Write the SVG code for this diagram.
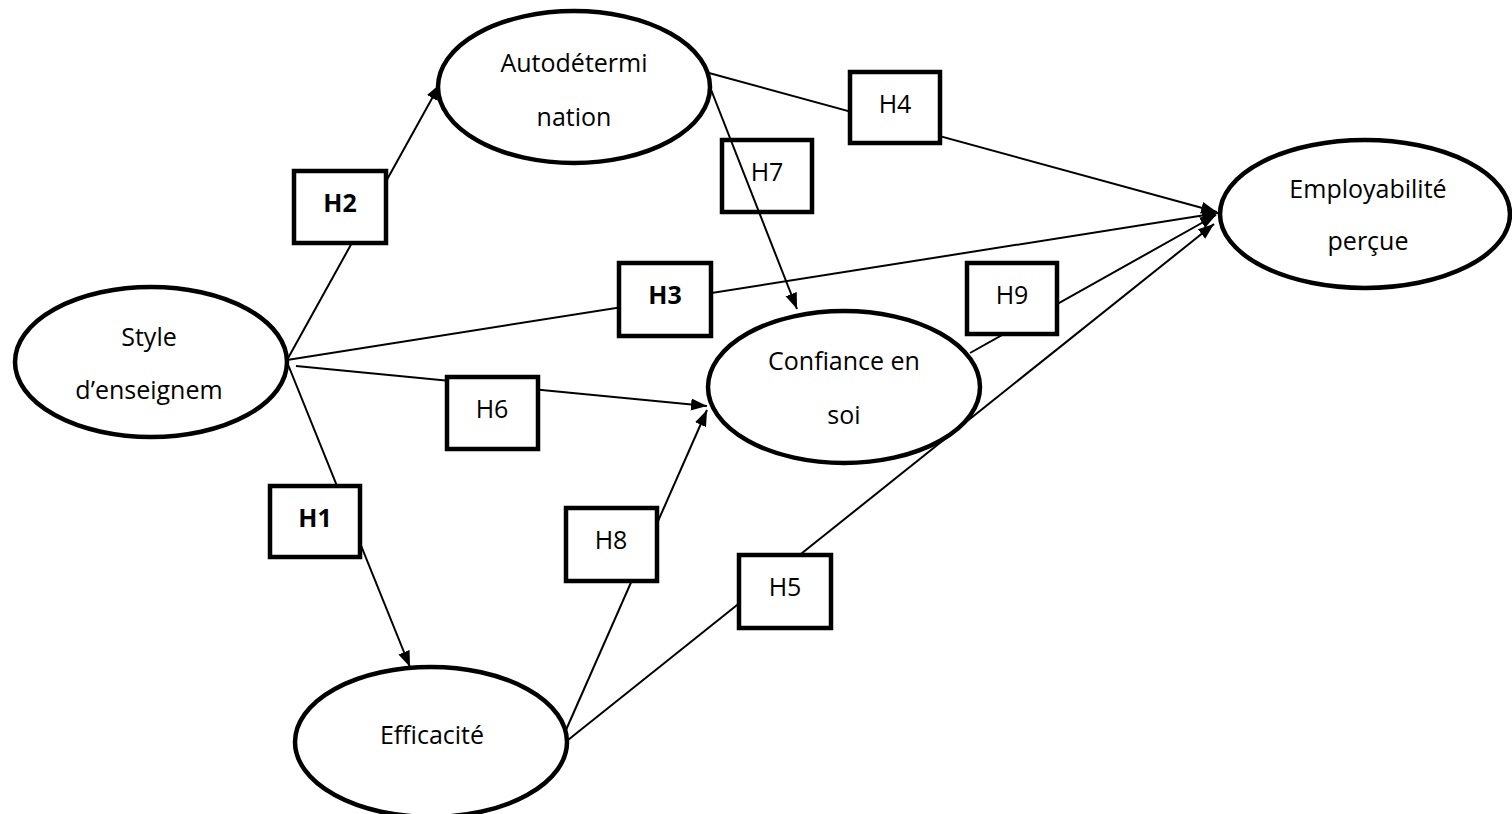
<svg xmlns="http://www.w3.org/2000/svg" width="1512" height="814" viewBox="0 0 1512 814">
<defs>
<marker id="arr" markerUnits="userSpaceOnUse" markerWidth="17" markerHeight="13" refX="16" refY="6" orient="auto">
<path d="M0,0 L16,6 L0,12 z" fill="#000"/>
</marker>
<style>
.node ellipse{fill:#fff;stroke:#000;stroke-width:4.5}
.box rect{fill:#fff;stroke:#000;stroke-width:4.5}
.lbl{font-family:"Open Sans","Noto Sans","Liberation Sans",sans-serif;font-size:25px;fill:#000;text-anchor:middle}
.b{font-weight:bold}
#connectors line{stroke:#000;stroke-width:2;marker-end:url(#arr)}
</style>
</defs>
<rect width="1512" height="814" fill="#fff"/>
<g id="connectors">
<line x1="287" y1="360" x2="440" y2="84"/>
<line x1="287" y1="360" x2="1218" y2="213"/>
<line x1="296" y1="366" x2="707" y2="406"/>
<line x1="287" y1="362" x2="410" y2="667"/>
<line x1="709" y1="73" x2="1217" y2="212"/>
<line x1="970" y1="353" x2="1216" y2="215"/>
<line x1="566" y1="730" x2="707" y2="410"/>
<line x1="568" y1="740" x2="1214" y2="224"/>
</g>
<g id="n-auto" class="node"><ellipse cx="574" cy="87" rx="136" ry="76"/><text class="lbl" x="574" y="72">Autodétermi</text><text class="lbl" x="574" y="126">nation</text></g>
<g id="n-style" class="node"><ellipse cx="151" cy="362" rx="136" ry="75"/><text class="lbl" x="149" y="346">Style</text><text class="lbl" x="149" y="399">d’enseignem</text></g>
<g id="n-conf" class="node"><ellipse cx="844" cy="387" rx="136" ry="76"/><text class="lbl" x="844" y="370">Confiance en</text><text class="lbl" x="844" y="424">soi</text></g>
<g id="n-emp" class="node"><ellipse cx="1365" cy="214" rx="145" ry="74"/><text class="lbl" x="1368" y="198">Employabilité</text><text class="lbl" x="1368" y="250">perçue</text></g>
<g id="n-eff" class="node"><ellipse cx="431" cy="742" rx="136" ry="75"/><text class="lbl" x="432" y="744">Efficacité</text></g>
<g id="h2" class="box"><rect x="294" y="171" width="92" height="72"/><text class="lbl b" x="340" y="212">H2</text></g>
<g id="h3" class="box"><rect x="619" y="263" width="92" height="73"/><text class="lbl b" x="665" y="304">H3</text></g>
<g id="h1" class="box"><rect x="270" y="486" width="90" height="71"/><text class="lbl b" x="315" y="527">H1</text></g>
<g id="h4" class="box"><rect x="850" y="72" width="90" height="71"/><text class="lbl" x="895" y="113">H4</text></g>
<g id="h6" class="box"><rect x="447" y="377" width="91" height="72"/><text class="lbl" x="492" y="418">H6</text></g>
<g id="h8" class="box"><rect x="566" y="508" width="91" height="73"/><text class="lbl" x="611" y="549">H8</text></g>
<g id="h5" class="box"><rect x="739" y="555" width="92" height="73"/><text class="lbl" x="785" y="596">H5</text></g>
<g id="h9" class="box"><rect x="967" y="263" width="90" height="71"/><text class="lbl" x="1012" y="304">H9</text></g>
<g id="h7" class="box"><rect x="722" y="140" width="90" height="72"/><text class="lbl" x="767" y="181">H7</text></g>
<g id="connectors-over">
<line x1="710" y1="87" x2="797" y2="309" stroke="#000" stroke-width="2" marker-end="url(#arr)"/>
</g>
</svg>
